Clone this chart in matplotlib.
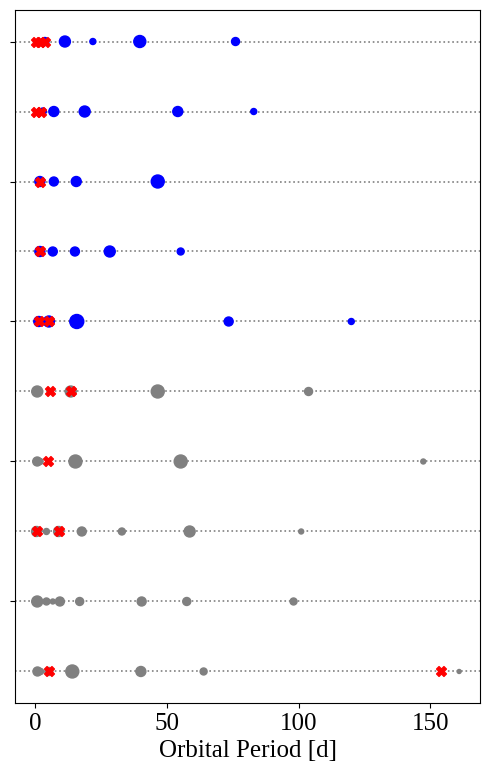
import matplotlib
matplotlib.use('Agg')
import matplotlib.pyplot as plt
import numpy as np

# Orbital periods [d] per system (top row first)
periods = [
    [3.8, 11.4, 22.0, 39.8, 76.1],
    [3.0, 7.2, 18.9, 54.2, 83.0],
    [1.9, 7.2, 15.7, 46.6],
    [1.9, 6.8, 15.2, 28.4, 55.3],
    [1.5, 5.3, 15.9, 73.5, 120.0],
    [0.9, 13.6, 46.6, 103.8],
    [0.9, 2.0, 15.4, 55.3, 147.3],
    [0.64, 4.4, 9.0, 17.8, 33.0, 58.7, 101.0],
    [0.9, 4.4, 6.8, 9.5, 17.0, 40.5, 57.6, 98.1],
    [1.0, 2.2, 5.3, 14.2, 40.2, 64.0, 160.9],
]
# marker diameters [px]
sizes = [
    [8, 11, 6, 12, 8],
    [7, 10, 11, 10, 6],
    [10, 9, 10, 13],
    [10, 9, 9, 11, 7],
    [10, 11, 14, 9, 6],
    [11, 11, 13, 8],
    [9, 6, 13, 13, 5],
    [10, 6, 10, 9, 7, 11, 5],
    [11, 7, 5, 9, 8, 9, 8, 7],
    [9, 6, 8, 13, 10, 7, 4],
]
# flagged planets (red crosses)
flagged = [
    [0.5, 2.1, 3.8],
    [0.5, 2.2],
    [1.9],
    [1.9],
    [1.5, 5.3],
    [5.6, 13.6],
    [4.9],
    [0.64, 9.0],
    [],
    [5.3, 154.0],
]
row_colors = ['blue'] * 5 + ['gray'] * 5


def main():
    plt.rcParams['font.family'] = ['Liberation Serif', 'DejaVu Serif']
    fig = plt.figure(figsize=(4.89, 7.76), dpi=100)
    ax = fig.add_subplot(111)
    fig.subplots_adjust(left=0.0307, right=0.9822, top=0.9871, bottom=0.0941)

    for i in range(len(periods)):
        ax.axhline(i, color='gray', ls=':', lw=1.2, zorder=1)
        s = (np.array(sizes[i]) * 0.72) ** 2
        ax.scatter(periods[i], [i] * len(periods[i]), s=s, c=row_colors[i], zorder=2)
        if flagged[i]:
            ax.scatter(flagged[i], [i] * len(flagged[i]), s=50, c='red', marker='X', zorder=3)

    ax.invert_yaxis()
    ax.set_yticks([0, 2, 4, 6, 8])
    ax.set_yticklabels([])
    ax.tick_params(axis='x', labelsize=18)
    ax.set_xlabel('Orbital Period [d]', fontsize=18)
    fig.savefig('out.png', dpi=100)


if __name__ == '__main__':
    main()
